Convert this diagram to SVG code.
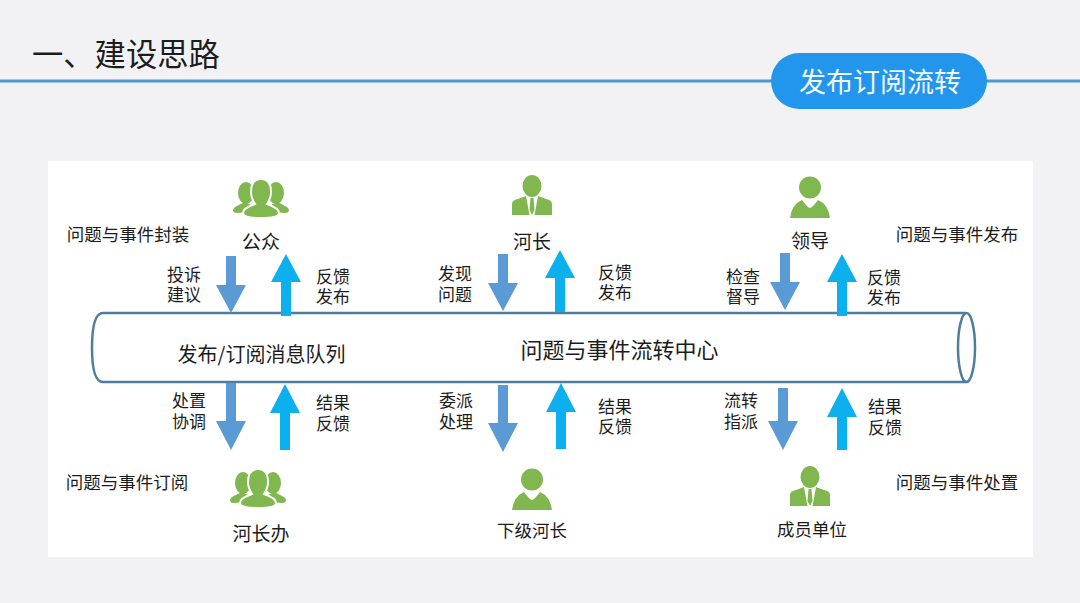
<svg xmlns="http://www.w3.org/2000/svg" width="1080" height="603" viewBox="0 0 1080 603">
<style>
text{font-family:"Noto Sans CJK SC","Liberation Sans",sans-serif;fill:#1c1c1c}
.t{font-size:17px;text-anchor:middle}
.m{font-size:17.500px;text-anchor:middle}
.n{font-size:19px;text-anchor:middle}
.g{fill:#80b74e}
.d{fill:#5b9bd5}
.u{fill:#0cb0ee}
</style>
<defs>
<path id="down" d="M-5-29H5V0H15L0,28-15,0H-5Z" class="d"/>
<path id="up" d="M-5,31H5V-3H15L0,-31-15,-3H-5Z" class="u"/>
<path id="downL" d="M-5-38H5V0H15L0,29-15,0H-5Z" class="d"/>
<path id="downM" d="M-5-33H5V0H15L0,29-15,0H-5Z" class="d"/>
<path id="upB" d="M-5,37H5V0H15L0,-29-15,0H-5Z" class="u"/>
<path id="upS" d="M-5,33H5V0H15L0,-29-15,0H-5Z" class="u"/>
<g id="person1"><ellipse cx="0" cy="-10" rx="9.500" ry="11"/><path d="M-20,19V8Q-20,4-14,3L-6,0-2.500,19ZM20,19V8Q20,4,14,3L6,0,2.500,19ZM-1.500,2H1.500L2.500,14,0,19-2.500,14Z"/></g>
<g id="person2"><circle cx="0" cy="-9.500" r="11"/><path d="M-20,21Q-18,7-8,3Q-3,10,0,11Q3,10,8,3Q18,7,20,21Z"/></g>
<g id="crowd"><ellipse cx="-15" cy="-6" rx="8" ry="11"/><ellipse cx="15" cy="-6" rx="8" ry="11"/><path d="M-28,11Q-28,8-16,3L-10,6-12,13-24,14Q-28,14-28,11ZM28,11Q28,8,16,3L10,6,12,13,24,14Q28,14,28,11Z"/><path d="M0,-20C7,-20,10,-14,10,-7C10,-2,8,2,6,5Q18,9,18,14Q18,19,0,19Q-18,19-18,14Q-18,9-6,5C-8,2-10,-2-10,-7C-10,-14-7,-20,0,-20Z" stroke="#fff" stroke-width="2"/></g>
</defs>
<rect width="1080" height="603" fill="#f2f2f4"/>
<rect x="0" y="79.500" width="1080" height="3" fill="#4f97cf"/>
<text x="32" y="66" style="font-size:31.300px">一、建设思路</text>
<g id="badge"><rect x="771" y="53" width="216" height="56" rx="28" fill="#2196ec"/><text x="880" y="92" style="font-size:27px;text-anchor:middle;fill:#f2f8ff">发布订阅流转</text></g>
<rect x="48" y="161" width="985" height="396" fill="#fff"/>
<g id="pipe" fill="none" stroke="#4f7d9f" stroke-width="2.500"><path d="M966,313H103Q92,313,92,348Q92,382,103,382H966" fill="#fff"/><ellipse cx="966.500" cy="347.500" rx="8.500" ry="34.500" fill="#fff"/></g>
<g id="connectors">
<use href="#down" x="231" y="285"/><use href="#up" x="286" y="285"/>
<use href="#down" x="503" y="283"/><use href="#up" x="560" y="281"/>
<use href="#down" x="785" y="282"/><use href="#up" x="842" y="285"/>
<use href="#downL" x="231" y="421"/><use href="#upB" x="285" y="413"/>
<use href="#downL" x="503" y="423"/><use href="#upB" x="561" y="412"/>
<use href="#downM" x="783" y="421"/><use href="#upS" x="842" y="417"/>
</g>
<g id="node-gongzhong"><use href="#crowd" x="261" y="199" class="g"/><text class="n" x="261" y="249">公众</text></g>
<g id="node-hezhang"><use href="#person1" x="532" y="196" class="g"/><text class="n" x="532" y="249">河长</text></g>
<g id="node-lingdao"><use href="#person2" x="810" y="197" class="g"/><text class="n" x="810" y="248">领导</text></g>
<g id="node-hezhangban"><use href="#crowd" x="258" y="489" class="g"/><text class="n" x="261" y="541">河长办</text></g>
<g id="node-xiaji"><use href="#person2" x="532" y="489" class="g"/><text class="m" x="532" y="537">下级河长</text></g>
<g id="node-chengyuan"><use href="#person1" x="810" y="487" class="g"/><text class="m" x="812" y="536">成员单位</text></g>
<g id="labels">
<text class="m" x="128" y="241">问题与事件封装</text>
<text class="m" x="957" y="241">问题与事件发布</text>
<text class="m" x="127" y="489">问题与事件订阅</text>
<text class="m" x="957" y="489">问题与事件处置</text>
<text class="t" y="281"><tspan x="184">投诉</tspan><tspan x="184" dy="20">建议</tspan></text>
<text class="t" y="283"><tspan x="333">反馈</tspan><tspan x="333" dy="20">发布</tspan></text>
<text class="t" y="280"><tspan x="455">发现</tspan><tspan x="455" dy="21">问题</tspan></text>
<text class="t" y="279"><tspan x="615">反馈</tspan><tspan x="615" dy="20">发布</tspan></text>
<text class="t" y="283"><tspan x="743">检查</tspan><tspan x="743" dy="20">督导</tspan></text>
<text class="t" y="284"><tspan x="884">反馈</tspan><tspan x="884" dy="20">发布</tspan></text>
<text class="t" y="407"><tspan x="189">处置</tspan><tspan x="189" dy="21">协调</tspan></text>
<text class="t" y="409"><tspan x="333">结果</tspan><tspan x="333" dy="21">反馈</tspan></text>
<text class="t" y="407"><tspan x="456">委派</tspan><tspan x="456" dy="21">处理</tspan></text>
<text class="t" y="413"><tspan x="615">结果</tspan><tspan x="615" dy="20">反馈</tspan></text>
<text class="t" y="407"><tspan x="741">流转</tspan><tspan x="741" dy="21">指派</tspan></text>
<text class="t" y="413"><tspan x="885">结果</tspan><tspan x="885" dy="21">反馈</tspan></text>
<text x="261.500" y="362" style="font-size:20px;text-anchor:middle">发布/订阅消息队列</text>
<text x="619.500" y="358" style="font-size:22px;text-anchor:middle">问题与事件流转中心</text>
</g>
</svg>
